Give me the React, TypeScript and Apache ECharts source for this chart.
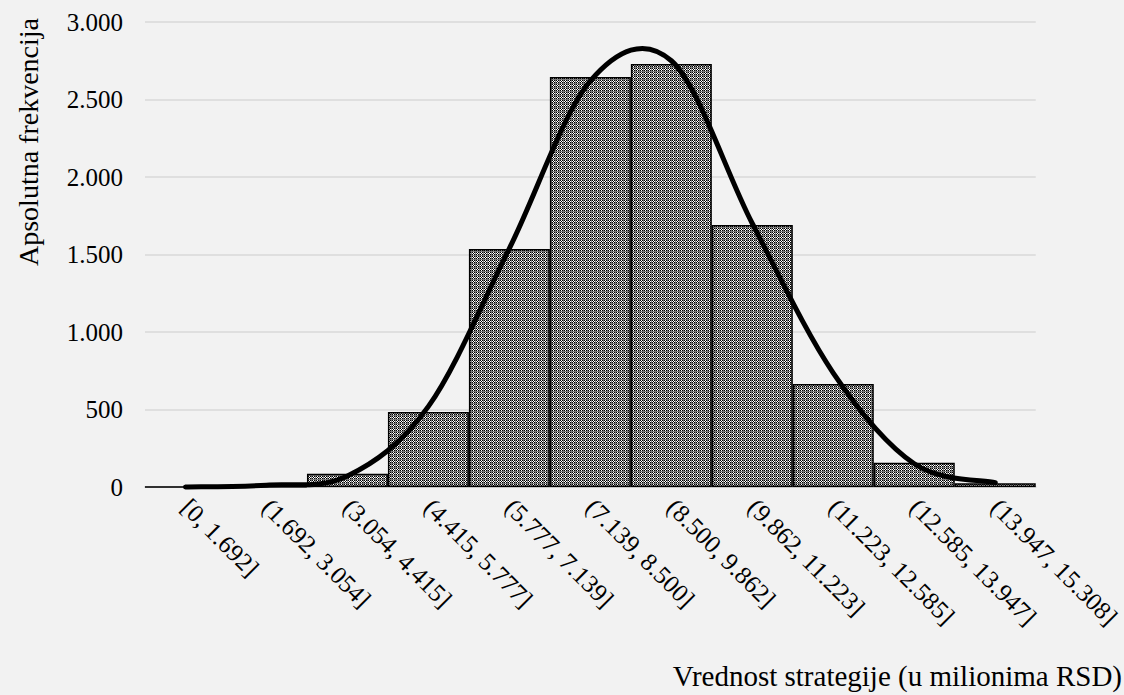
import React, { useEffect, useRef } from "react";
import * as echarts from "echarts";

const categories = [
  "[0, 1.692]",
  "(1.692, 3.054]",
  "(3.054, 4.415]",
  "(4.415, 5.777]",
  "(5.777, 7.139]",
  "(7.139, 8.500]",
  "(8.500, 9.862]",
  "(9.862, 11.223]",
  "(11.223, 12.585]",
  "(12.585, 13.947]",
  "(13.947, 15.308]",
];
const frequencies = [0, 2, 85, 484, 1535, 2645, 2729, 1690, 665, 157, 25];
const fittedCurve = [0, 12, 71, 520, 1540, 2620, 2750, 1700, 735, 150, 28];
const yMin = 0;
const yMax = 3000;
const yInterval = 500;
const xTitle = "Vrednost strategije (u milionima RSD)";
const yTitle = "Apsolutna frekvencija";

const FONT = "'Liberation Serif', 'Times New Roman', serif";

function makePattern(): HTMLCanvasElement {
  const c = document.createElement("canvas");
  c.width = 4;
  c.height = 4;
  const ctx = c.getContext("2d")!;
  for (let y = 0; y < 4; y++) {
    for (let x = 0; x < 4; x++) {
      let col: string;
      if (x === 3 || y === 3) col = "#7a7a7a";
      else col = (x + y) % 2 === 0 ? "#000" : "#fff";
      ctx.fillStyle = col;
      ctx.fillRect(x, y, 1, 1);
    }
  }
  return c;
}

export default function App() {
  const ref = useRef<HTMLDivElement>(null);
  useEffect(() => {
    document.body.style.margin = "0";
    document.body.style.background = "#f2f2f2";
    const chart = echarts.init(ref.current!, null, { renderer: "svg" });
    const pattern = makePattern();
    const fmt = (v: number) => String(v).replace(/\B(?=(\d{3})+(?!\d))/g, ".");
    chart.setOption({
      animation: false,
      backgroundColor: "#f2f2f2",
      grid: { left: 145, right: 87, top: 22, bottom: 208 },
      xAxis: {
        type: "category",
        data: categories,
        boundaryGap: true,
        axisLine: { show: true, lineStyle: { color: "#bfbfbf", width: 1.5 } },
        axisTick: { show: false },
        axisLabel: {
          interval: 0,
          rotate: -45,
          margin: 16,
          color: "#000",
          fontFamily: FONT,
          fontSize: 25,
        },
      },
      yAxis: {
        type: "value",
        min: yMin,
        max: yMax,
        interval: yInterval,
        axisLine: { show: false },
        axisTick: { show: false },
        splitLine: { lineStyle: { color: "#d9d9d9", width: 1.5 } },
        axisLabel: {
          color: "#000",
          fontFamily: FONT,
          fontSize: 25,
          margin: 22,
          formatter: fmt,
        },
      },
      graphic: [
        {
          type: "text",
          x: 1122,
          y: 676,
          style: {
            text: xTitle,
            fill: "#000",
            font: `29px ${FONT}`,
            textAlign: "right",
            textVerticalAlign: "middle",
          },
        },
        {
          type: "text",
          x: 28,
          y: 142,
          rotation: Math.PI / 2,
          style: {
            text: yTitle,
            fill: "#000",
            font: `28px ${FONT}`,
            textAlign: "center",
            textVerticalAlign: "middle",
          },
        },
      ],
      series: [
        {
          type: "bar",
          data: frequencies,
          barCategoryGap: "0%",
          itemStyle: {
            color: { image: pattern, repeat: "repeat", imageWidth: 4, imageHeight: 4 },
            borderColor: "#000",
            borderWidth: 1.5,
          },
        },
        {
          type: "custom",
          data: fittedCurve.map((v, i) => [i, v]),
          renderItem: (params: any, api: any) => {
            if (params.dataIndex !== 0) return null;
            const pts = fittedCurve.map((v, i) => api.coord([i, v]));
            const n = pts.length;
            let d = `M${pts[0][0]},${pts[0][1]}`;
            for (let i = 0; i < n - 1; i++) {
              const p0 = pts[i > 0 ? i - 1 : i];
              const p1 = pts[i];
              const p2 = pts[i + 1];
              const p3 = pts[i + 2 < n ? i + 2 : i + 1];
              const c1x = p1[0] + (p2[0] - p0[0]) / 6;
              const c1y = p1[1] + (p2[1] - p0[1]) / 6;
              const c2x = p2[0] - (p3[0] - p1[0]) / 6;
              const c2y = p2[1] - (p3[1] - p1[1]) / 6;
              d += ` C${c1x},${c1y} ${c2x},${c2y} ${p2[0]},${p2[1]}`;
            }
            return {
              type: "path",
              shape: { pathData: d },
              style: { stroke: "#000", lineWidth: 5, fill: "none", lineCap: "round", lineJoin: "round" },
            };
          },
          z: 5,
        },
      ],
    });
    return () => chart.dispose();
  }, []);
  return <div ref={ref} style={{ width: 1124, height: 695 }} />;
}
